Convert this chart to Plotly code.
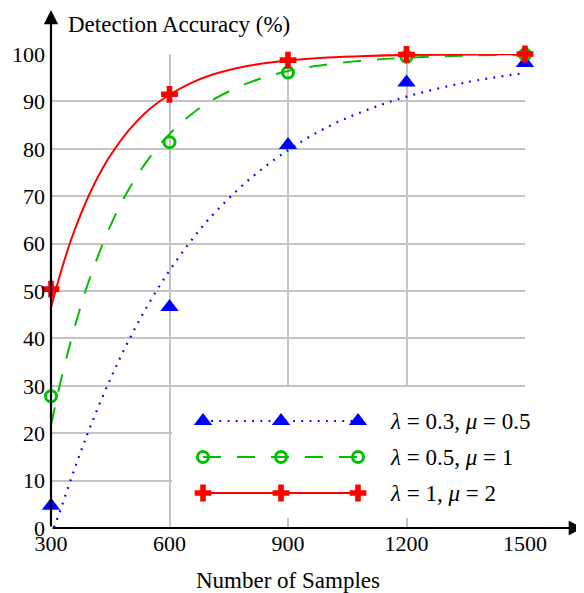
import plotly.graph_objects as go

# ---------------- data ----------------
sample_sizes = [300, 600, 900, 1200, 1500]
acc_blue = [4.7, 46.6, 80.8, 94.0, 98.1]     # lambda=0.3, mu=0.5
acc_green = [27.8, 81.4, 96.1, 99.4, 99.9]   # lambda=0.5, mu=1
acc_red = [50.4, 91.5, 98.7, 99.9, 100.0]    # lambda=1, mu=2

# fitted curves
fit_x = [300, 325, 350, 375, 400, 450, 500, 550, 600, 650, 700, 800, 900,
         1000, 1100, 1200, 1350, 1500]
fit_blue = [-1.5, 4.0, 10.2, 16.0, 21.5, 31.4, 40.1, 47.7, 54.3, 60.1, 65.2,
            73.4, 79.7, 84.6, 88.2, 91.0, 94.0, 96.0]
fit_green = [21.7, 31.1, 39.4, 46.7, 53.1, 63.7, 71.9, 78.2, 83.1, 86.9, 89.9,
             93.9, 96.4, 97.8, 98.7, 99.2, 99.65, 99.85]
fit_red_x = [300, 325, 350, 375, 400, 430, 460, 500, 550, 600, 650, 700, 800,
             900, 1000, 1100, 1200, 1500]
fit_red = [46.5, 54.0, 60.6, 66.1, 70.9, 75.8, 79.8, 84.2, 88.4, 91.4, 93.7,
           95.4, 97.5, 98.6, 99.25, 99.6, 99.8, 99.95]

x_ticks = [300, 600, 900, 1200, 1500]
y_ticks = list(range(0, 101, 10))

labels = ["<i>λ</i> = 0.3, <i>μ</i> = 0.5",
          "<i>λ</i> = 0.5, <i>μ</i> = 1",
          "<i>λ</i> = 1, <i>μ</i> = 2"]

# ---------------- style ----------------
BLUE = "#0000ff"
GREEN = "#00c000"
RED = "#ff0000"
GRID = "#c4c4c4"
FONT = "Liberation Serif"

# the page adds an 8px body margin, so the figure is 8px smaller
W, H = 576, 585
L, R, T, B = 43, 59, 46, 65
PW, PH = W - L - R, H - T - B
REF_L, REF_BOTTOM = 51, 528   # plot origin in the reference picture


def px_x(p):
    return (p - REF_L) / PW


def px_y(p):
    return (REF_BOTTOM - p) / PH


series = [
    dict(fx=fit_x, fy=fit_blue, y=acc_blue, color=BLUE, dash="1.8px,6.4px",
         width=2.2, symbol="triangle-up", msize=16, mline=0),
    dict(fx=fit_x, fy=fit_green, y=acc_green, color=GREEN, dash="18px,16px",
         width=2, symbol="circle-open", msize=11, mline=3),
    dict(fx=fit_red_x, fy=fit_red, y=acc_red, color=RED, dash="solid",
         width=2, symbol="cross", msize=14, mline=0),
]

fig = go.Figure()
for s in series:
    fig.add_trace(go.Scatter(
        x=s["fx"], y=s["fy"], mode="lines", line_shape="spline",
        line=dict(color=s["color"], width=s["width"], dash=s["dash"]),
        showlegend=False, hoverinfo="skip", cliponaxis=False))
for s in series:
    fig.add_trace(go.Scatter(
        x=sample_sizes, y=s["y"], mode="markers",
        marker=dict(symbol=s["symbol"], size=s["msize"], color=s["color"],
                    line=dict(color=s["color"], width=s["mline"])),
        showlegend=False, cliponaxis=False))

# white legend box (hides the grid behind the legend)
bx0, bx1 = px_x(172), 1.01
by0, by1 = px_y(518), px_y(387)
fig.add_trace(go.Scatter(
    x=[bx0, bx1, bx1, bx0, bx0], y=[by0, by0, by1, by1, by0],
    xaxis="x2", yaxis="y2", mode="lines", fill="toself",
    fillcolor="white", line=dict(width=0, color="white"),
    showlegend=False, hoverinfo="skip", cliponaxis=False))

# custom legend (three markers per row like the original)
leg_x = [px_x(203), px_x(281), px_x(358)]
leg_rows = [px_y(421), px_y(457), px_y(493)]
for s, ry, lab in zip(series, leg_rows, labels):
    fig.add_trace(go.Scatter(
        x=leg_x, y=[ry] * 3, xaxis="x2", yaxis="y2", mode="lines+markers",
        line=dict(color=s["color"], width=s["width"], dash=s["dash"]),
        marker=dict(symbol=s["symbol"], size=s["msize"], color=s["color"],
                    line=dict(color=s["color"], width=s["mline"])),
        showlegend=False, cliponaxis=False, hoverinfo="skip"))
    fig.add_annotation(xref="paper", yref="paper", x=px_x(388), y=ry,
                       xanchor="left", yanchor="middle", text=lab,
                       showarrow=False,
                       font=dict(family=FONT, size=23, color="black"))

# axis arrows
fig.add_annotation(xref="paper", yref="paper", x=px_x(583), y=0,
                   ax=-(583 - REF_L), ay=0, showarrow=True, arrowhead=2,
                   arrowsize=1.3, arrowwidth=2.2, arrowcolor="black", text="",
                   standoff=0)
fig.add_annotation(xref="paper", yref="paper", x=0, y=px_y(10),
                   ax=0, ay=(REF_BOTTOM - 10), showarrow=True, arrowhead=2,
                   arrowsize=1.3, arrowwidth=2.2, arrowcolor="black", text="",
                   standoff=0)

# titles
fig.add_annotation(xref="paper", yref="paper", x=px_x(66), y=px_y(24),
                   xanchor="left", yanchor="middle",
                   text="Detection Accuracy (%)", showarrow=False,
                   font=dict(family=FONT, size=23, color="black"))
fig.add_annotation(xref="paper", yref="paper", x=0.5, y=px_y(580),
                   xanchor="center", yanchor="middle",
                   text="Number of Samples", showarrow=False,
                   font=dict(family=FONT, size=23, color="black"))

fig.update_layout(
    width=W, height=H, autosize=False,
    margin=dict(l=L, r=R, t=T, b=B, pad=0),
    paper_bgcolor="white", plot_bgcolor="white",
    font=dict(family=FONT, size=22, color="black"),
    xaxis=dict(range=[300, 1500], tickvals=x_ticks, showgrid=True,
               gridcolor=GRID, gridwidth=2, zeroline=False, showline=False,
               ticks="", ticklabelstandoff=0, automargin=False,
               tickfont=dict(family=FONT, size=22, color="black")),
    yaxis=dict(range=[0, 100], tickvals=y_ticks, showgrid=True,
               gridcolor=GRID, gridwidth=2, zeroline=False, showline=False,
               ticks="", ticklabelstandoff=5, automargin=False,
               tickfont=dict(family=FONT, size=22, color="black")),
    xaxis2=dict(range=[0, 1], overlaying="x", visible=False),
    yaxis2=dict(range=[0, 1], overlaying="y", visible=False),
    showlegend=False,
)

fig.write_html("out.html")
